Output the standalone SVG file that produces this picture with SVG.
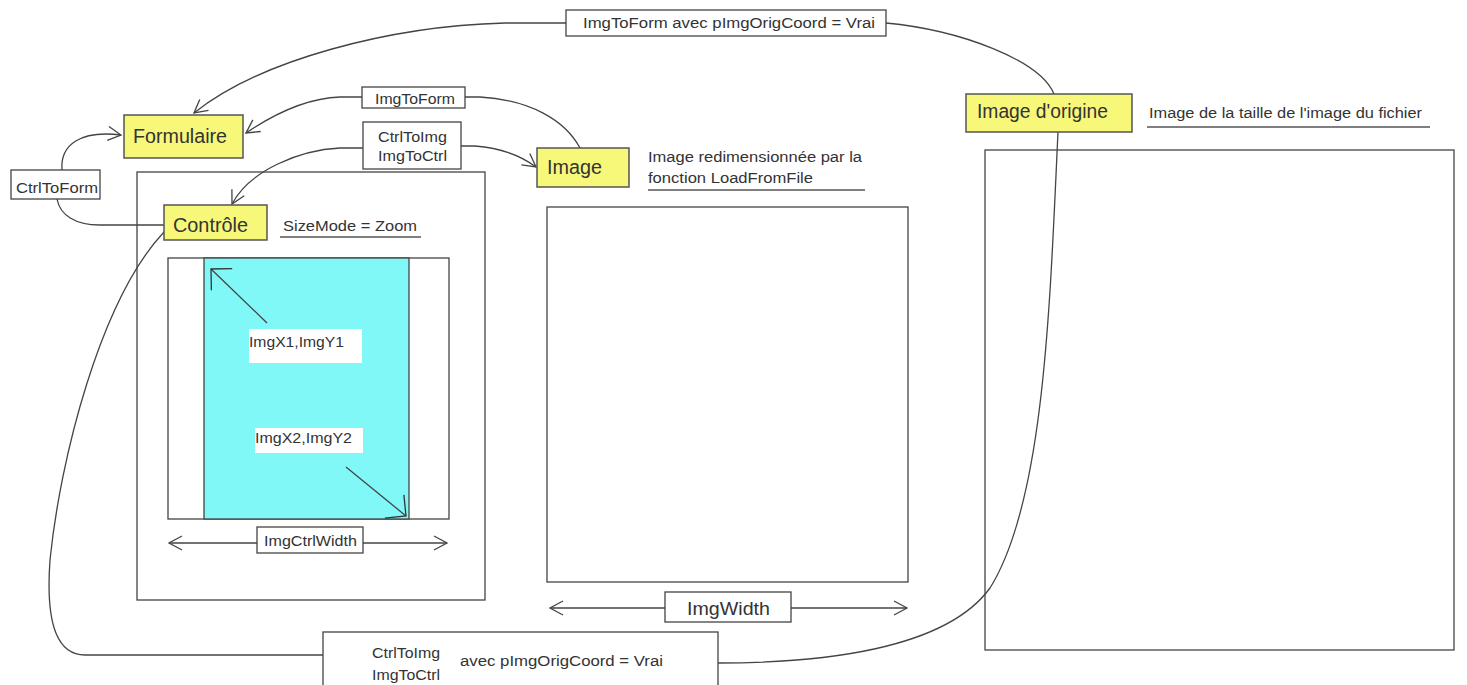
<svg xmlns="http://www.w3.org/2000/svg" width="1467" height="685" viewBox="0 0 1467 685">
<style>
text{font-family:"Liberation Sans",Arial,sans-serif;fill:#333}
.big{font-size:20px}
.sm{font-size:15.5px}
.yel{fill:#f7f77a;stroke:#555;stroke-width:1.5}
.box{fill:#fff;stroke:#444;stroke-width:1.3}
.frame{fill:none;stroke:#444;stroke-width:1.3}
.con{fill:none;stroke:#444;stroke-width:1.3}
.ul{stroke:#555;stroke-width:1.5}
</style>
<defs>
<marker id="arr" markerUnits="userSpaceOnUse" markerWidth="20" markerHeight="20" viewBox="-15 -10 20 20" refX="0" refY="0" orient="auto-start-reverse">
<path d="M-13,-7 L0,0 L-13,7" fill="none" stroke="#444" stroke-width="1.3"/>
</marker>
<marker id="corner" markerUnits="userSpaceOnUse" markerWidth="30" markerHeight="34" viewBox="-20 -17 24 34" refX="0" refY="0" orient="auto">
<path d="M-15,-15 L0,0 L-15,15" fill="none" stroke="#333" stroke-width="1.3"/>
</marker>
</defs>
<rect width="1467" height="685" fill="#fff"/>

<g id="connectors">
<path class="con" d="M566,23 L505,23 C390,26 260,60 194,113" marker-end="url(#arr)"/>
<path class="con" d="M886,23 C960,30 1040,60 1054,94"/>
<path class="con" d="M1058,132 C1050,300 1045,500 990,588 C945,650 820,663 718,663"/>
<path class="con" d="M362,97 L340,97 C310,98 280,110 246,133" marker-end="url(#arr)"/>
<path class="con" d="M465,97 L480,97 C530,100 565,120 580,148"/>
<path class="con" d="M363,148 L340,148 C300,150 250,170 232,204" marker-end="url(#arr)"/>
<path class="con" d="M461,146 L475,146 C500,148 520,155 536,167" marker-end="url(#arr)"/>
<path class="con" d="M62,170 C60,145 80,130 121,135" marker-end="url(#arr)"/>
<path class="con" d="M57,199 C60,215 75,225 100,225 L164,225"/>
<path class="con" d="M164,232 C100,300 60,460 50,560 C45,630 60,655 85,655 L323,655"/>
</g>

<g id="formulaire">
<rect class="yel" x="124" y="115" width="119" height="43"/>
<text class="big" x="133" y="143" textLength="94" lengthAdjust="spacingAndGlyphs">Formulaire</text>
</g>

<g id="ctrltoform">
<rect class="box" x="11" y="170" width="89" height="29"/>
<text class="sm" x="16" y="193" textLength="82" lengthAdjust="spacingAndGlyphs">CtrlToForm</text>
</g>

<g id="imgtoform">
<rect class="box" x="362" y="87" width="103" height="21"/>
<text class="sm" x="375" y="104" textLength="80" lengthAdjust="spacingAndGlyphs">ImgToForm</text>
</g>

<g id="ctrltoimg">
<rect class="box" x="363" y="122" width="98" height="47"/>
<text class="sm" x="378" y="142" textLength="69" lengthAdjust="spacingAndGlyphs">CtrlToImg</text>
<text class="sm" x="378" y="161" textLength="69" lengthAdjust="spacingAndGlyphs">ImgToCtrl</text>
</g>

<g id="imgtoform-orig">
<rect class="box" x="566" y="10" width="320" height="26"/>
<text class="sm" x="583" y="28" textLength="292" lengthAdjust="spacingAndGlyphs">ImgToForm avec pImgOrigCoord = Vrai</text>
</g>

<g id="controle-frame">
<rect class="frame" x="137" y="172" width="348" height="428"/>
<rect x="168" y="258" width="281" height="261" fill="#fff" stroke="#444" stroke-width="1.3"/>
<rect x="204" y="258" width="205" height="261" fill="#80f8f8" stroke="#444" stroke-width="1.3"/>
<rect x="249" y="329" width="113" height="34" fill="#fff"/>
<text class="sm" x="249" y="347" textLength="95" lengthAdjust="spacingAndGlyphs">ImgX1,ImgY1</text>
<rect x="255" y="428" width="108" height="25" fill="#fff"/>
<text class="sm" x="255" y="443" textLength="97" lengthAdjust="spacingAndGlyphs">ImgX2,ImgY2</text>
<line class="con" x1="267" y1="323" x2="211" y2="269" marker-end="url(#corner)"/>
<line class="con" x1="346" y1="467" x2="406" y2="516" marker-end="url(#corner)"/>
<line class="con" x1="257" y1="543" x2="169" y2="543" marker-end="url(#arr)"/>
<line class="con" x1="363" y1="543" x2="447" y2="543" marker-end="url(#arr)"/>
<rect class="box" x="257" y="527" width="106" height="26"/>
<text class="sm" x="264" y="546" textLength="93" lengthAdjust="spacingAndGlyphs">ImgCtrlWidth</text>
</g>

<g id="controle">
<rect class="yel" x="164" y="205" width="103" height="35"/>
<text class="big" x="173" y="232" textLength="75" lengthAdjust="spacingAndGlyphs">Contrôle</text>
<text class="sm" x="283" y="231" textLength="134" lengthAdjust="spacingAndGlyphs">SizeMode = Zoom</text>
<line class="ul" x1="280" y1="237" x2="421" y2="237"/>
</g>

<g id="image">
<rect class="yel" x="537" y="148" width="92" height="39"/>
<text class="big" x="547" y="174" textLength="55" lengthAdjust="spacingAndGlyphs">Image</text>
<text class="sm" x="648" y="162" textLength="214" lengthAdjust="spacingAndGlyphs">Image redimensionnée par la</text>
<text class="sm" x="648" y="183" textLength="165" lengthAdjust="spacingAndGlyphs">fonction LoadFromFile</text>
<line class="ul" x1="648" y1="190" x2="865" y2="190"/>
</g>

<g id="image-frame">
<rect class="frame" x="547" y="207" width="361" height="375"/>
<line class="con" x1="665" y1="608" x2="550" y2="608" marker-end="url(#arr)"/>
<line class="con" x1="791" y1="608" x2="907" y2="608" marker-end="url(#arr)"/>
<rect class="box" x="665" y="592" width="126" height="30"/>
<text x="687" y="615" font-size="19" textLength="83" lengthAdjust="spacingAndGlyphs">ImgWidth</text>
</g>

<g id="image-origine">
<rect class="yel" x="966" y="94" width="166" height="38"/>
<text class="big" x="977" y="118" textLength="131" lengthAdjust="spacingAndGlyphs">Image d'origine</text>
<text class="sm" x="1149" y="118" textLength="273" lengthAdjust="spacingAndGlyphs">Image de la taille de l'image du fichier</text>
<line class="ul" x1="1147" y1="127" x2="1430" y2="127"/>
</g>

<g id="origine-frame">
<rect class="frame" x="985" y="150" width="469" height="500"/>
</g>

<g id="bottom-box">
<rect class="box" x="323" y="632" width="395" height="60"/>
<text class="sm" x="372" y="658" textLength="68" lengthAdjust="spacingAndGlyphs">CtrlToImg</text>
<text class="sm" x="372" y="680" textLength="68" lengthAdjust="spacingAndGlyphs">ImgToCtrl</text>
<text class="sm" x="460" y="666" textLength="203" lengthAdjust="spacingAndGlyphs">avec pImgOrigCoord = Vrai</text>
</g>
</svg>
